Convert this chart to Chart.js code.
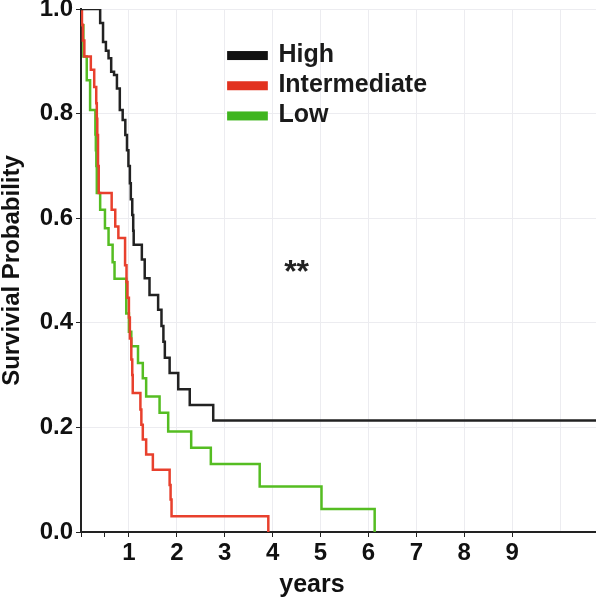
<!DOCTYPE html>
<html lang="en">
  <head>
    <meta charset="UTF-8" />
    <title>Survival Probability</title>
    <script src="https://cdn.jsdelivr.net/npm/chart.js@4.4.0/dist/chart.umd.min.js"></script>
    <style>
      html, body { margin: 0; padding: 0; background: #fff; }
    </style>
  </head>
  <body>
    <canvas id="chart" width="596" height="601"></canvas>
    <script>
      // Kaplan-Meier curves (years, survival after each step)
      const highTimes = [0, 0.40, 0.46, 0.52, 0.575, 0.63, 0.69, 0.75, 0.81, 0.87, 0.925, 0.96, 0.99, 1.02, 1.04, 1.07, 1.09, 1.10, 1.27, 1.33, 1.43, 1.61, 1.68, 1.72, 1.75, 1.85, 2.03, 2.27, 2.76, 10.75]
      const highSurv = [1.0, 0.973, 0.937, 0.92, 0.906, 0.88, 0.874, 0.848, 0.807, 0.788, 0.759, 0.73, 0.70, 0.667, 0.636, 0.606, 0.576, 0.549, 0.521, 0.485, 0.453, 0.425, 0.394, 0.364, 0.333, 0.304, 0.273, 0.243, 0.213, 0.213]

      const medTimes = [0, 0.02, 0.04, 0.07, 0.205, 0.276, 0.318, 0.33, 0.34, 0.355, 0.37, 0.64, 0.715, 0.78, 0.92, 0.95, 0.97, 1.0, 1.02, 1.05, 1.07, 1.08, 1.24, 1.26, 1.29, 1.36, 1.50, 1.85, 1.87, 1.89, 3.91]
      const medSurv = [1.0, 0.97, 0.94, 0.909, 0.884, 0.851, 0.82, 0.79, 0.759, 0.70, 0.648, 0.616, 0.584, 0.562, 0.51, 0.478, 0.448, 0.41, 0.37, 0.33, 0.30, 0.266, 0.234, 0.205, 0.177, 0.148, 0.119, 0.09, 0.062, 0.03, 0]

      const lowTimes = [0, 0.01, 0.05, 0.12, 0.19, 0.30, 0.31, 0.32, 0.33, 0.40, 0.50, 0.575, 0.66, 0.70, 0.945, 1.0, 1.05, 1.19, 1.29, 1.36, 1.64, 1.82, 2.30, 2.71, 3.73, 5.02, 6.13]
      const lowSurv = [1.0, 0.969, 0.909, 0.864, 0.807, 0.76, 0.73, 0.70, 0.648, 0.616, 0.581, 0.549, 0.516, 0.484, 0.418, 0.383, 0.355, 0.323, 0.294, 0.259, 0.228, 0.192, 0.161, 0.130, 0.087, 0.044, 0]

      const seriesNames = ['High', 'Intermediate', 'Low']
      const xTickValues = [1, 2, 3, 4, 5, 6, 7, 8, 9]
      const xTickLabels = ['1', '2', '3', '4', '5', '6', '7', '8', '9']
      const yTickValues = [0, 0.2, 0.4, 0.6, 0.8, 1.0]
      const yTickLabels = ['0.0', '0.2', '0.4', '0.6', '0.8', '1.0']
      const markText = '**'

      const colors = ['#222222', '#e8402d', '#55bd22']
      const swatchColors = ['#111111', '#e2321f', '#3fb51f']
      const FONT = '"Liberation Sans", Arial, sans-serif'

      const toPoints = (ts, ss) => ts.map((t, i) => ({ x: t, y: ss[i] }))

      // legend, significance mark and x title drawn on top
      const overlay = {
        id: 'overlay',
        afterDraw(chart) {
          const ctx = chart.ctx
          const xs = chart.scales.x
          const ys = chart.scales.y
          ctx.save()
          const left = xs.getPixelForValue(3.05)
          const right = xs.getPixelForValue(3.9)
          const textX = xs.getPixelForValue(4.12)
          const firstRow = ys.getPixelForValue(0.911)
          ctx.font = 'bold 25px ' + FONT
          ctx.textBaseline = 'alphabetic'
          ctx.textAlign = 'left'
          seriesNames.forEach((name, i) => {
            const cy = firstRow + i * 30.2
            ctx.fillStyle = swatchColors[i]
            ctx.fillRect(left, cy - 4.5, right - left, 9)
            ctx.fillStyle = '#1a1a1a'
            ctx.fillText(name, textX, cy + 6.5)
          })

          ctx.font = 'bold 32px ' + FONT
          ctx.textAlign = 'center'
          ctx.fillStyle = '#222'
          ctx.fillText(markText, xs.getPixelForValue(4.5), ys.getPixelForValue(0.513) + 18)

          ctx.font = 'bold 25px ' + FONT
          ctx.fillStyle = '#111'
          ctx.fillText('years', xs.getPixelForValue(4.82), 592)
          ctx.restore()
        },
      }

      const ctx = document.getElementById('chart').getContext('2d')
      const myChart = new Chart(ctx, {
        type: 'line',
        data: {
          datasets: [
            { label: seriesNames[0], data: toPoints(highTimes, highSurv) },
            { label: seriesNames[1], data: toPoints(medTimes, medSurv) },
            { label: seriesNames[2], data: toPoints(lowTimes, lowSurv) },
          ].map((d, i) => ({
            ...d,
            borderColor: colors[i],
            backgroundColor: colors[i],
            borderWidth: 2.5,
            pointRadius: 0,
            stepped: true,
            fill: false,
          })),
        },
        options: {
          responsive: false,
          animation: false,
          layout: { padding: 0 },
          plugins: {
            legend: { display: false },
            tooltip: { enabled: false },
          },
          scales: {
            x: {
              type: 'linear',
              min: 0,
              max: 10.75,
              afterBuildTicks: (scale) => {
                scale.ticks = [0, 0.5, ...xTickValues, 10].map((v) => ({ value: v }))
              },
              afterFit: (scale) => {
                scale.height = 69
                scale.paddingLeft = 0
                scale.paddingRight = 0
              },
              ticks: {
                autoSkip: false,
                maxRotation: 0,
                padding: 2,
                color: '#111',
                font: { family: FONT, size: 24, weight: 'bold' },
                callback: (v) => {
                  const i = xTickValues.indexOf(v)
                  return i >= 0 ? xTickLabels[i] : ''
                },
              },
              grid: {
                color: (c) => (c.tick && c.tick.value >= 1 && Number.isInteger(c.tick.value) ? '#ececf0' : 'rgba(0,0,0,0)'),
                tickColor: (c) => (c.tick && c.tick.value <= 9 ? '#222' : 'rgba(0,0,0,0)'),
                tickLength: 5,
                lineWidth: 1,
              },
              border: { display: true, color: '#222', width: 2 },
            },
            y: {
              min: 0,
              max: 1,
              afterBuildTicks: (scale) => {
                scale.ticks = yTickValues.map((v) => ({ value: v }))
              },
              afterFit: (scale) => {
                scale.width = 81
                scale.paddingTop = 9
                scale.paddingBottom = 0
              },
              ticks: {
                padding: 3,
                color: '#111',
                font: { family: FONT, size: 24, weight: 'bold' },
                callback: (v) => {
                  const i = yTickValues.findIndex((t) => Math.abs(t - v) < 1e-9)
                  return i >= 0 ? yTickLabels[i] : ''
                },
              },
              grid: {
                color: '#ececf0',
                tickColor: '#222',
                tickLength: 5,
                lineWidth: 1,
              },
              border: { display: true, color: '#222', width: 2 },
              title: {
                display: true,
                text: 'Survivial Probability',
                color: '#111',
                padding: 0,
                font: { family: FONT, size: 24, weight: 'bold', lineHeight: 1 },
              },
            },
          },
        },
        plugins: [overlay],
      })
    </script>
  </body>
</html>
